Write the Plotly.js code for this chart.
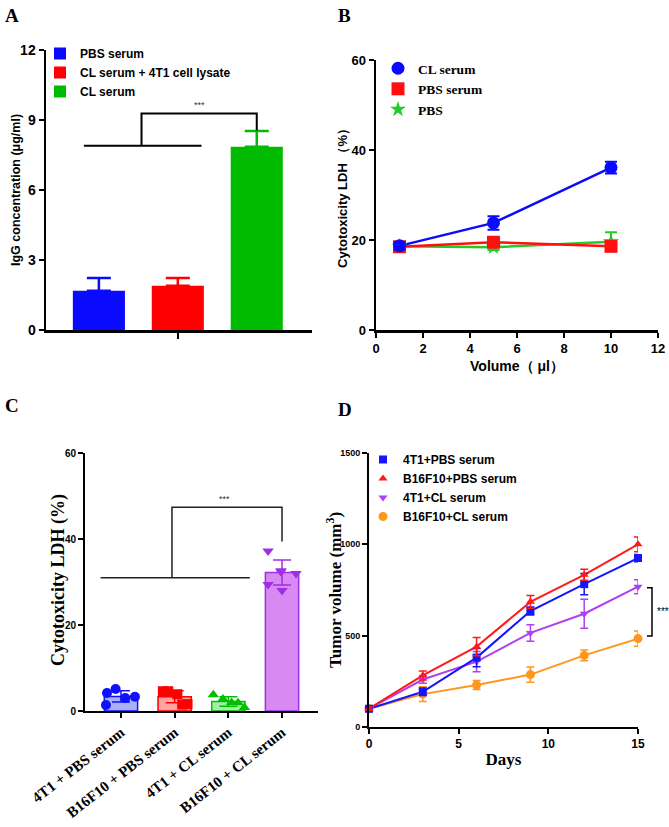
<!DOCTYPE html>
<html>
<head>
<meta charset="utf-8">
<script src="https://cdn.plot.ly/plotly-3.0.1.min.js"></script>
<style>html,body{margin:0;padding:0;background:#fff;}#chart{width:669px;height:827px;}</style>
</head>
<body>
<div id="chart"></div>
<script>
// ---------- Panel A: IgG concentration ----------
const aGroups = ["PBS serum", "CL serum + 4T1 cell lysate", "CL serum"];
const aValues = [1.68, 1.9, 7.85];
const aErrors = [0.55, 0.33, 0.68];
const aColors = ["#0a0aff", "#ff0000", "#00bb00"];

// ---------- Panel B: Cytotoxicity vs volume ----------
const bVolume = [1, 5, 10];
const bSeries = ["CL serum", "PBS serum", "PBS"];
const bCL = [18.7, 23.8, 36.1];
const bCLerr = [0.8, 1.5, 1.3];
const bPBSserum = [18.5, 19.5, 18.6];
const bPBSserumErr = [0.6, 0.9, 0.8];
const bPBS = [18.6, 18.4, 19.6];
const bPBSerr = [0.5, 0.6, 2.1];

// ---------- Panel C: Cytotoxicity by group ----------
const cGroups = ["4T1 + PBS serum", "B16F10 + PBS serum", "4T1 + CL serum", "B16F10 + CL serum"];
const cMeans = [3.4, 3.3, 2.2, 32.2];
const cErrors = [1.3, 1.4, 1.1, 2.9];
const cPoints = [
  [1.4, 4.2, 5.1, 3.0, 3.3],
  [4.6, 4.6, 3.9, 1.5, 1.6],
  [3.8, 2.8, 2.0, 1.9, 0.8],
  [37.2, 32.6, 32.4, 32.0, 29.4, 28.0]
];
const cJitter = [
  [-0.28, -0.26, -0.1, 0.08, 0.26],
  [-0.22, -0.12, 0.05, 0.14, 0.24],
  [-0.28, -0.1, 0.06, 0.18, 0.3],
  [-0.26, -0.02, -0.02, 0.26, -0.26, 0.0]
];
const cFill = ["rgba(140,150,240,0.75)", "rgba(255,140,140,0.8)", "rgba(140,230,140,0.75)", "#d98af2"];
const cLine = ["#1010ff", "#ff0000", "#00c000", "#a02ee6"];
const cSymbols = ["circle", "square", "triangle-up", "triangle-down"];

// ---------- Panel D: Tumor volume ----------
const dDays = [0, 3, 6, 9, 12, 15];
const dNames = ["4T1+PBS serum", "B16F10+PBS serum", "4T1+CL serum", "B16F10+CL serum"];
const d4T1PBS = [100, 193, 380, 635, 782, 925];
const d4T1PBSerr = [10, 20, 50, 22, 58, 20];
const dB16PBS = [100, 282, 440, 685, 833, 1000];
const dB16PBSerr = [10, 25, 50, 35, 30, 40];
const d4T1CL = [100, 260, 358, 515, 620, 768];
const d4T1CLerr = [10, 20, 55, 45, 80, 38];
const dB16CL = [100, 180, 230, 287, 392, 484];
const dB16CLerr = [10, 40, 25, 42, 30, 42];
const dColors = ["#1515ff", "#ff1a1a", "#b040f0", "#ff961e"];
const dSymbols = ["square", "triangle-up", "triangle-down", "circle"];

// Significance brackets (data units)
const aBracket = {base: 7.9, top: 9.28, left: -0.19, right: 1.3, from: 0.54, to: 2.0, end: 8.55};
const cBracket = {base: 31, top: 47.4, left: -0.38, right: 2.4, from: 0.95, to: 3.0, end: 39.4};
const dBracket = {top: 762, bottom: 498, label: 632};

const ARIAL = "Liberation Sans, Arial, sans-serif";
const TIMES = "Liberation Serif, Times New Roman, serif";
const W = 669, H = 827;
const px = v => v / W;
const py = v => 1 - v / H;

const traces = [];

// Panel A bars
aGroups.forEach((g, i) => {
  traces.push({
    type: "bar", x: [i], y: [aValues[i]], name: g, width: 0.66,
    marker: {color: aColors[i], line: {width: 0}},
    error_y: {type: "data", array: [aErrors[i]], arrayminus: [0], symmetric: false, color: aColors[i], thickness: 2.5, width: 12},
    xaxis: "x", yaxis: "y", legend: "legend"
  });
});

// Panel B
const bData = [bCL, bPBSserum, bPBS];
const bErr = [bCLerr, bPBSserumErr, bPBSerr];
const bColors = ["#0a0aff", "#ff1010", "#22cc22"];
const bSym = ["circle", "square", "star"];
const bSize = [13, 13, 12];
[2, 1, 0].forEach(i => {
  traces.push({
    type: "scatter", mode: "lines", x: bVolume, y: bData[i], showlegend: false,
    line: {color: bColors[i], width: 2.5}, xaxis: "x2", yaxis: "y2", hoverinfo: "skip"
  });
});
[2, 1, 0].forEach(i => {
  traces.push({
    type: "scatter", mode: "markers", x: bVolume, y: bData[i], name: bSeries[i],
    marker: {color: bColors[i], symbol: bSym[i], size: bSize[i]},
    error_y: {type: "data", array: bErr[i], color: bColors[i], thickness: 2, width: 6},
    xaxis: "x2", yaxis: "y2", legend: "legend2", legendrank: i + 1
  });
});

// Panel C bars and points
cGroups.forEach((g, i) => {
  traces.push({
    type: "bar", x: [i], y: [cMeans[i]], name: g, width: 0.62, showlegend: false,
    marker: {color: cFill[i], line: {color: cLine[i], width: 1.5}},
    error_y: {type: "data", array: [cErrors[i]], color: cLine[i], thickness: 1.5, width: 9},
    xaxis: "x3", yaxis: "y3"
  });
});
cGroups.forEach((g, i) => {
  traces.push({
    type: "scatter", mode: "markers", name: g, showlegend: false,
    x: cPoints[i].map((v, k) => i + cJitter[i][k]), y: cPoints[i],
    marker: {color: cLine[i], symbol: cSymbols[i], size: 10},
    xaxis: "x3", yaxis: "y3", cliponaxis: false
  });
});

// Panel D
const dData = [d4T1PBS, dB16PBS, d4T1CL, dB16CL];
const dErr = [d4T1PBSerr, dB16PBSerr, d4T1CLerr, dB16CLerr];
[3, 2, 0, 1].forEach(i => {
  traces.push({
    type: "scatter", mode: "lines", x: dDays, y: dData[i], showlegend: false,
    line: {color: dColors[i], width: 2}, xaxis: "x4", yaxis: "y4", hoverinfo: "skip"
  });
});
[3, 2, 0, 1].forEach(i => {
  traces.push({
    type: "scatter", mode: "markers", x: dDays, y: dData[i], name: dNames[i],
    marker: {color: dColors[i], symbol: dSymbols[i], size: i === 3 ? 9 : 8},
    error_y: {type: "data", array: dErr[i], color: dColors[i], thickness: 1.5, width: 4},
    xaxis: "x4", yaxis: "y4", legend: "legend4", legendrank: i + 1, cliponaxis: false
  });
});

const axBase = {
  showgrid: false, zeroline: false, showline: true, linecolor: "#000", linewidth: 2.5,
  ticks: "outside", ticklen: 5, tickwidth: 2, tickcolor: "#000", fixedrange: true
};

const layout = {
  width: W, height: H, margin: {l: 0, r: 0, t: 0, b: 0},
  paper_bgcolor: "#fff", plot_bgcolor: "rgba(0,0,0,0)", showlegend: true,
  font: {family: ARIAL, color: "#000"},
  barmode: "overlay",
  // Panel A axes
  xaxis: Object.assign({}, axBase, {
    domain: [px(46), px(312)], range: [-0.67, 2.7], anchor: "y",
    tickvals: [1], showticklabels: false, ticklen: 6
  }),
  yaxis: Object.assign({}, axBase, {
    domain: [py(330), py(50)], range: [0, 12], anchor: "x", tickvals: [0, 3, 6, 9, 12],
    tickfont: {family: ARIAL, size: 14, color: "#000", weight: "bold"}
  }),
  // Panel B axes
  xaxis2: Object.assign({}, axBase, {
    domain: [px(376), px(658)], range: [0, 12], anchor: "y2", dtick: 2,
    tickfont: {family: ARIAL, size: 13, weight: "bold"},
    title: {text: "Volume（ μl）", font: {family: ARIAL, size: 14, weight: "bold"}, standoff: 6}
  }),
  yaxis2: Object.assign({}, axBase, {
    domain: [py(330), py(60)], range: [0, 60], anchor: "x2", dtick: 20,
    tickfont: {family: ARIAL, size: 13, weight: "bold"},
    title: {text: "Cytotoxicity LDH （%）", font: {family: ARIAL, size: 13, weight: "bold"}, standoff: 1}
  }),
  // Panel C axes
  xaxis3: Object.assign({}, axBase, {
    domain: [px(85), px(318)], range: [-0.67, 3.67], anchor: "y3",
    tickvals: [0, 1, 2, 3], ticktext: cGroups, tickangle: -38, linewidth: 2,
    tickfont: {family: TIMES, size: 15, weight: "bold"}
  }),
  yaxis3: Object.assign({}, axBase, {
    domain: [py(711), py(453)], range: [0, 60], anchor: "x3", dtick: 20, linewidth: 2,
    tickfont: {family: ARIAL, size: 10, weight: "bold"}
  }),
  // Panel D axes
  xaxis4: Object.assign({}, axBase, {
    domain: [px(369), px(638)], range: [0, 15], anchor: "y4", dtick: 5, linewidth: 2,
    tickfont: {family: ARIAL, size: 12, weight: "bold"},
    title: {text: "Days", font: {family: TIMES, size: 17, weight: "bold"}, standoff: 3}
  }),
  yaxis4: Object.assign({}, axBase, {
    domain: [py(727), py(453)], range: [0, 1500], anchor: "x4", dtick: 500, linewidth: 2,
    tickfont: {family: ARIAL, size: 9, weight: "bold"}
  }),
  legend: {x: px(40), y: py(39), xanchor: "left", yanchor: "top", bgcolor: "rgba(0,0,0,0)",
    font: {family: ARIAL, size: 12, weight: "bold"}, traceorder: "normal", itemwidth: 30},
  legend2: {x: px(378), y: py(53), xanchor: "left", yanchor: "top", bgcolor: "rgba(0,0,0,0)",
    font: {family: TIMES, size: 13.5, weight: "bold"}, traceorder: "normal", itemwidth: 30},
  legend4: {x: px(363), y: py(445), xanchor: "left", yanchor: "top", bgcolor: "rgba(0,0,0,0)",
    font: {family: ARIAL, size: 12, weight: "bold"}, traceorder: "normal", itemwidth: 30},
  shapes: [
    // A bracket
    {type: "line", xref: "x", yref: "y", x0: aBracket.left, x1: aBracket.right, y0: aBracket.base, y1: aBracket.base, line: {color: "#000", width: 2}},
    {type: "path", xref: "x", yref: "y",
      path: `M${aBracket.from},${aBracket.base} L${aBracket.from},${aBracket.top} L${aBracket.to},${aBracket.top} L${aBracket.to},${aBracket.end}`,
      line: {color: "#000", width: 2}},
    // C bracket
    {type: "line", xref: "x3", yref: "y3", x0: cBracket.left, x1: cBracket.right, y0: cBracket.base, y1: cBracket.base, line: {color: "#222", width: 1.5}},
    {type: "path", xref: "x3", yref: "y3",
      path: `M${cBracket.from},${cBracket.base} L${cBracket.from},${cBracket.top} L${cBracket.to},${cBracket.top} L${cBracket.to},${cBracket.end}`,
      line: {color: "#222", width: 1.5}},
    // D bracket
    {type: "path", xref: "paper", yref: "y4",
      path: `M${px(647)},${dBracket.top} L${px(652)},${dBracket.top} L${px(652)},${dBracket.bottom} L${px(647)},${dBracket.bottom}`,
      line: {color: "#000", width: 1.5}}
  ],
  annotations: [
    {text: "<b>A</b>", xref: "paper", yref: "paper", x: px(3), y: py(15), xanchor: "left", yanchor: "middle", showarrow: false, font: {family: TIMES, size: 19}},
    {text: "<b>B</b>", xref: "paper", yref: "paper", x: px(336), y: py(15), xanchor: "left", yanchor: "middle", showarrow: false, font: {family: TIMES, size: 19}},
    {text: "<b>C</b>", xref: "paper", yref: "paper", x: px(3), y: py(405), xanchor: "left", yanchor: "middle", showarrow: false, font: {family: TIMES, size: 19}},
    {text: "<b>D</b>", xref: "paper", yref: "paper", x: px(336), y: py(409), xanchor: "left", yanchor: "middle", showarrow: false, font: {family: TIMES, size: 19}},
    // y-axis titles
    {text: "<b>IgG concentration (μg/ml)</b>", xref: "paper", yref: "paper", x: px(16), y: py(190), textangle: -90,
      xanchor: "center", yanchor: "middle", showarrow: false, font: {family: ARIAL, size: 12.5}},
    {text: "<b>Cytotoxicity LDH (%)</b>", xref: "paper", yref: "paper", x: px(58), y: py(580), textangle: -90,
      xanchor: "center", yanchor: "middle", showarrow: false, font: {family: TIMES, size: 18}},
    {text: "<b>Tumor volume (mm<sup>3</sup>)</b>", xref: "paper", yref: "paper", x: px(334), y: py(590), textangle: -90,
      xanchor: "center", yanchor: "middle", showarrow: false, font: {family: TIMES, size: 17}},
    {text: "***", xref: "x", yref: "y", x: 1.28, y: aBracket.top, yanchor: "bottom", showarrow: false, font: {family: ARIAL, size: 9, color: "#333"}, yshift: 1},
    {text: "***", xref: "x3", yref: "y3", x: 1.92, y: cBracket.top, yanchor: "bottom", showarrow: false, font: {family: ARIAL, size: 9, color: "#333"}, yshift: 1},
    {text: "***", xref: "paper", yref: "y4", x: px(663), y: dBracket.label, xanchor: "center", yanchor: "middle", showarrow: false, font: {family: ARIAL, size: 10, color: "#000"}}
  ]
};

Plotly.newPlot("chart", traces, layout, {staticPlot: true, displayModeBar: false});
</script>
</body>
</html>
